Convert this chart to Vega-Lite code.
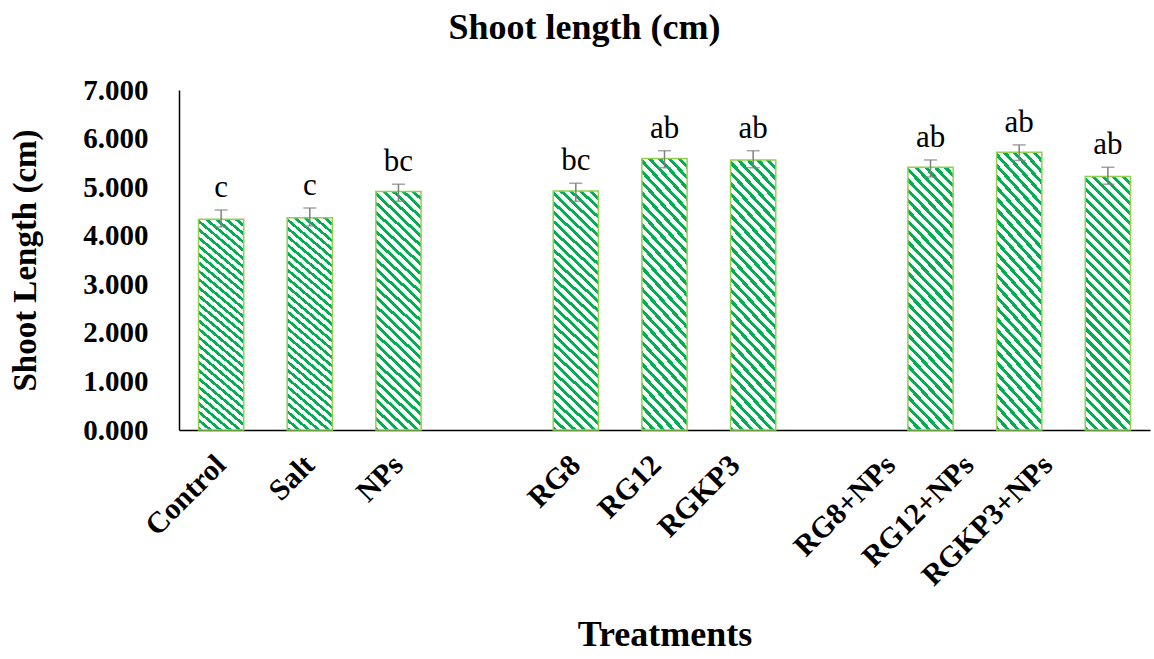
{
  "$schema": "https://vega.github.io/schema/vega-lite/v6.json",
  "width": 971,
  "height": 340,
  "autosize": "none",
  "padding": {"left": 179, "top": 90, "right": 4, "bottom": 229},
  "background": "white",
  "config": {
    "view": {"stroke": null},
    "font": "Liberation Serif"
  },
  "title": {
    "text": "Shoot length (cm)",
    "font": "Liberation Serif",
    "fontSize": 36,
    "fontWeight": "bold",
    "color": "#000000",
    "anchor": "middle",
    "baseline": "alphabetic",
    "dx": -80,
    "offset": 1
  },
  "data": {
    "values": [
      {"Treatment": "Control", "Mean": 4.34, "Lo": 4.18, "Hi": 4.53, "Letter": "c"},
      {"Treatment": "Salt", "Mean": 4.37, "Lo": 4.20, "Hi": 4.57, "Letter": "c"},
      {"Treatment": "NPs", "Mean": 4.91, "Lo": 4.71, "Hi": 5.06, "Letter": "bc"},
      {"Treatment": "RG8", "Mean": 4.92, "Lo": 4.71, "Hi": 5.08, "Letter": "bc"},
      {"Treatment": "RG12", "Mean": 5.59, "Lo": 5.40, "Hi": 5.75, "Letter": "ab"},
      {"Treatment": "RGKP3", "Mean": 5.56, "Lo": 5.40, "Hi": 5.75, "Letter": "ab"},
      {"Treatment": "RG8+NPs", "Mean": 5.41, "Lo": 5.21, "Hi": 5.56, "Letter": "ab"},
      {"Treatment": "RG12+NPs", "Mean": 5.72, "Lo": 5.55, "Hi": 5.87, "Letter": "ab"},
      {"Treatment": "RGKP3+NPs", "Mean": 5.22, "Lo": 5.06, "Hi": 5.41, "Letter": "ab"}
    ]
  },
  "encoding": {
    "x": {
      "field": "Treatment",
      "type": "nominal",
      "sort": null,
      "scale": {
        "domain": ["Control", "Salt", "NPs", " ", "RG8", "RG12", "RGKP3", "  ", "RG8+NPs", "RG12+NPs", "RGKP3+NPs"],
        "paddingInner": 0.49,
        "paddingOuter": 0.22
      },
      "axis": {
        "title": "Treatments",
        "titleFont": "Liberation Serif",
        "titleFontSize": 36,
        "titleFontWeight": "bold",
        "titleColor": "#000000",
        "titlePadding": 26,
        "labelAngle": -45,
        "labelAlign": "right",
        "labelBaseline": "middle",
        "labelFont": "Liberation Serif",
        "labelFontSize": 30,
        "labelFontWeight": "bold",
        "labelColor": "#000000",
        "labelPadding": 30,
        "labelOffset": {
          "condition": [
            {"test": "datum.value === 'RG12'", "value": -8},
            {"test": "datum.value === 'RGKP3'", "value": -18},
            {"test": "datum.value === 'RG8+NPs'", "value": -40},
            {"test": "datum.value === 'RG12+NPs'", "value": -50},
            {"test": "datum.value === 'RGKP3+NPs'", "value": -60}
          ],
          "value": 0
        },
        "ticks": false,
        "domainColor": "#000000",
        "domainWidth": 1.5,
        "grid": false
      }
    }
  },
  "layer": [
    {
      "mark": {
        "type": "bar",
        "stroke": "#92D050",
        "strokeWidth": 1.5,
        "fill": {
          "gradient": "linear",
          "x1": 0, "y1": 1, "x2": 0.2057, "y2": -0.1428,
          "stops": [
            {"offset": 0, "color": "#00B050"}, {"offset": 0.014, "color": "#00B050"}, {"offset": 0.014, "color": "#ffffff"}, {"offset": 0.0333, "color": "#ffffff"},
            {"offset": 0.0333, "color": "#00B050"}, {"offset": 0.0473, "color": "#00B050"}, {"offset": 0.0473, "color": "#ffffff"}, {"offset": 0.0667, "color": "#ffffff"},
            {"offset": 0.0667, "color": "#00B050"}, {"offset": 0.0807, "color": "#00B050"}, {"offset": 0.0807, "color": "#ffffff"}, {"offset": 0.1, "color": "#ffffff"},
            {"offset": 0.1, "color": "#00B050"}, {"offset": 0.114, "color": "#00B050"}, {"offset": 0.114, "color": "#ffffff"}, {"offset": 0.1333, "color": "#ffffff"},
            {"offset": 0.1333, "color": "#00B050"}, {"offset": 0.1473, "color": "#00B050"}, {"offset": 0.1473, "color": "#ffffff"}, {"offset": 0.1667, "color": "#ffffff"},
            {"offset": 0.1667, "color": "#00B050"}, {"offset": 0.1807, "color": "#00B050"}, {"offset": 0.1807, "color": "#ffffff"}, {"offset": 0.2, "color": "#ffffff"},
            {"offset": 0.2, "color": "#00B050"}, {"offset": 0.214, "color": "#00B050"}, {"offset": 0.214, "color": "#ffffff"}, {"offset": 0.2333, "color": "#ffffff"},
            {"offset": 0.2333, "color": "#00B050"}, {"offset": 0.2473, "color": "#00B050"}, {"offset": 0.2473, "color": "#ffffff"}, {"offset": 0.2667, "color": "#ffffff"},
            {"offset": 0.2667, "color": "#00B050"}, {"offset": 0.2807, "color": "#00B050"}, {"offset": 0.2807, "color": "#ffffff"}, {"offset": 0.3, "color": "#ffffff"},
            {"offset": 0.3, "color": "#00B050"}, {"offset": 0.314, "color": "#00B050"}, {"offset": 0.314, "color": "#ffffff"}, {"offset": 0.3333, "color": "#ffffff"},
            {"offset": 0.3333, "color": "#00B050"}, {"offset": 0.3473, "color": "#00B050"}, {"offset": 0.3473, "color": "#ffffff"}, {"offset": 0.3667, "color": "#ffffff"},
            {"offset": 0.3667, "color": "#00B050"}, {"offset": 0.3807, "color": "#00B050"}, {"offset": 0.3807, "color": "#ffffff"}, {"offset": 0.4, "color": "#ffffff"},
            {"offset": 0.4, "color": "#00B050"}, {"offset": 0.414, "color": "#00B050"}, {"offset": 0.414, "color": "#ffffff"}, {"offset": 0.4333, "color": "#ffffff"},
            {"offset": 0.4333, "color": "#00B050"}, {"offset": 0.4473, "color": "#00B050"}, {"offset": 0.4473, "color": "#ffffff"}, {"offset": 0.4667, "color": "#ffffff"},
            {"offset": 0.4667, "color": "#00B050"}, {"offset": 0.4807, "color": "#00B050"}, {"offset": 0.4807, "color": "#ffffff"}, {"offset": 0.5, "color": "#ffffff"},
            {"offset": 0.5, "color": "#00B050"}, {"offset": 0.514, "color": "#00B050"}, {"offset": 0.514, "color": "#ffffff"}, {"offset": 0.5333, "color": "#ffffff"},
            {"offset": 0.5333, "color": "#00B050"}, {"offset": 0.5473, "color": "#00B050"}, {"offset": 0.5473, "color": "#ffffff"}, {"offset": 0.5667, "color": "#ffffff"},
            {"offset": 0.5667, "color": "#00B050"}, {"offset": 0.5807, "color": "#00B050"}, {"offset": 0.5807, "color": "#ffffff"}, {"offset": 0.6, "color": "#ffffff"},
            {"offset": 0.6, "color": "#00B050"}, {"offset": 0.614, "color": "#00B050"}, {"offset": 0.614, "color": "#ffffff"}, {"offset": 0.6333, "color": "#ffffff"},
            {"offset": 0.6333, "color": "#00B050"}, {"offset": 0.6473, "color": "#00B050"}, {"offset": 0.6473, "color": "#ffffff"}, {"offset": 0.6667, "color": "#ffffff"},
            {"offset": 0.6667, "color": "#00B050"}, {"offset": 0.6807, "color": "#00B050"}, {"offset": 0.6807, "color": "#ffffff"}, {"offset": 0.7, "color": "#ffffff"},
            {"offset": 0.7, "color": "#00B050"}, {"offset": 0.714, "color": "#00B050"}, {"offset": 0.714, "color": "#ffffff"}, {"offset": 0.7333, "color": "#ffffff"},
            {"offset": 0.7333, "color": "#00B050"}, {"offset": 0.7473, "color": "#00B050"}, {"offset": 0.7473, "color": "#ffffff"}, {"offset": 0.7667, "color": "#ffffff"},
            {"offset": 0.7667, "color": "#00B050"}, {"offset": 0.7807, "color": "#00B050"}, {"offset": 0.7807, "color": "#ffffff"}, {"offset": 0.8, "color": "#ffffff"},
            {"offset": 0.8, "color": "#00B050"}, {"offset": 0.814, "color": "#00B050"}, {"offset": 0.814, "color": "#ffffff"}, {"offset": 0.8333, "color": "#ffffff"},
            {"offset": 0.8333, "color": "#00B050"}, {"offset": 0.8473, "color": "#00B050"}, {"offset": 0.8473, "color": "#ffffff"}, {"offset": 0.8667, "color": "#ffffff"},
            {"offset": 0.8667, "color": "#00B050"}, {"offset": 0.8807, "color": "#00B050"}, {"offset": 0.8807, "color": "#ffffff"}, {"offset": 0.9, "color": "#ffffff"},
            {"offset": 0.9, "color": "#00B050"}, {"offset": 0.914, "color": "#00B050"}, {"offset": 0.914, "color": "#ffffff"}, {"offset": 0.9333, "color": "#ffffff"},
            {"offset": 0.9333, "color": "#00B050"}, {"offset": 0.9473, "color": "#00B050"}, {"offset": 0.9473, "color": "#ffffff"}, {"offset": 0.9667, "color": "#ffffff"},
            {"offset": 0.9667, "color": "#00B050"}, {"offset": 0.9807, "color": "#00B050"}, {"offset": 0.9807, "color": "#ffffff"}, {"offset": 1, "color": "#ffffff"}
          ]
        }
      },
      "encoding": {
        "y": {
          "field": "Mean",
          "type": "quantitative",
          "scale": {"domain": [0, 7], "nice": false},
          "axis": {
            "title": "Shoot Length (cm)",
            "titleFont": "Liberation Serif",
            "titleFontSize": 33,
            "titleFontWeight": "bold",
            "titleColor": "#000000",
            "titlePadding": 40,
            "values": [0, 1, 2, 3, 4, 5, 6, 7],
            "format": ".3f",
            "labelFont": "Liberation Serif",
            "labelFontSize": 29,
            "labelFontWeight": "bold",
            "labelColor": "#000000",
            "labelPadding": 31,
            "ticks": false,
            "grid": false,
            "domainColor": "#000000",
            "domainWidth": 1.5
          }
        }
      }
    },
    {
      "mark": {"type": "rule", "color": "#7F7F7F", "strokeWidth": 1.5},
      "encoding": {
        "y": {"field": "Lo", "type": "quantitative"},
        "y2": {"field": "Hi"}
      }
    },
    {
      "mark": {"type": "tick", "color": "#7F7F7F", "thickness": 1.5, "size": 13},
      "encoding": {
        "y": {"field": "Lo", "type": "quantitative"}
      }
    },
    {
      "mark": {"type": "tick", "color": "#7F7F7F", "thickness": 1.5, "size": 13},
      "encoding": {
        "y": {"field": "Hi", "type": "quantitative"}
      }
    },
    {
      "mark": {"type": "text", "font": "Liberation Serif", "fontSize": 31, "color": "#000000", "baseline": "alphabetic", "dy": -13},
      "encoding": {
        "y": {"field": "Hi", "type": "quantitative"},
        "text": {"field": "Letter"}
      }
    }
  ]
}
